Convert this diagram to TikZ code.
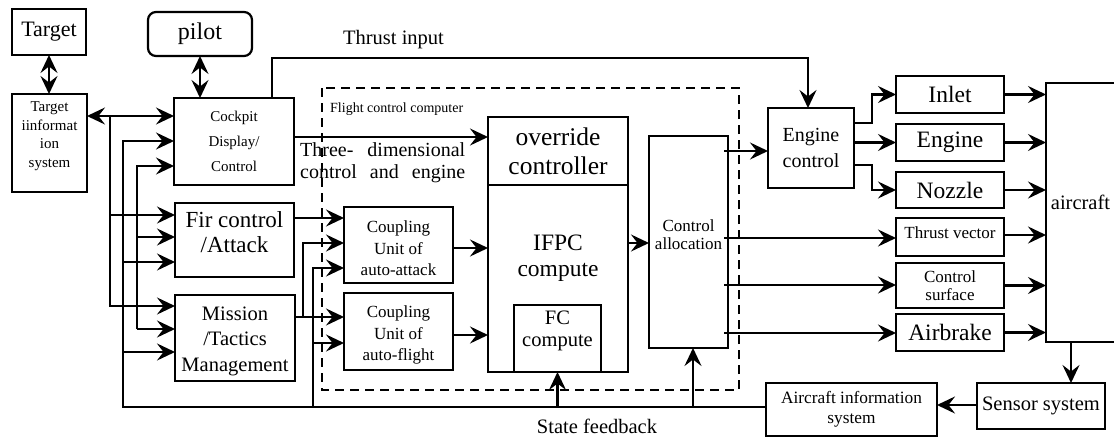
\documentclass[tikz,border=0pt]{standalone}
\usepackage{fontspec}
\setmainfont{Liberation Serif}
\usetikzlibrary{arrows.meta,calc}
\newcommand\fsz[2]{\fontsize{#1}{#2}\selectfont}
\begin{document}
\begin{tikzpicture}[x=1pt,y=-1pt,
  box/.style={draw, line width=2.2pt, anchor=north west, inner sep=0pt, outer sep=0pt, align=center},
  rbox/.style={box, rounded corners=8pt},
  ln/.style={line width=2.2pt},
  arr/.style={line width=2.2pt, -{Stealth[length=18pt,width=17pt,inset=6.5pt]}},
  darr/.style={line width=2.2pt, {Stealth[length=18pt,width=17pt,inset=6.5pt]}-{Stealth[length=18pt,width=17pt,inset=6.5pt]}},
  txt/.style={align=center, inner sep=0pt},
]
\useasboundingbox (0,0) rectangle (1114,437);

% ---------- boxes ----------
\node[box, minimum width=74pt, minimum height=46pt, font=\fsz{22}{24}] (target) at (12,9) {Target};
\node[rbox, minimum width=104pt, minimum height=44pt, font=\fsz{24}{26}] (pilot) at (148,12) {pilot};
\node[box, minimum width=75pt, minimum height=98pt] (tis) at (12,94) {};
\node[txt, font=\fsz{15}{18.5}] at (49.5,136) {Target\\iinformat\\ion\\system};
\node[box, minimum width=120pt, minimum height=87pt, font=\fsz{15}{25}] (cockpit) at (174,98) {Cockpit\\Display/\\Control};
\node[box, minimum width=119pt, minimum height=74pt] (fir) at (175,203) {};
\node[txt, font=\fsz{23}{25}] at (234.5,232) {Fir control\\/Attack};
\node[box, minimum width=120pt, minimum height=86pt] (mission) at (175,295) {};
\node[txt, font=\fsz{20.5}{25.5}] at (235,341) {Mission\\/Tactics\\Management};

\node[box, minimum width=109pt, minimum height=76pt] (cpa) at (344,207) {};
\node[txt, font=\fsz{17}{21.5}] at (398.5,248.5) {Coupling\\Unit of\\auto-attack};
\node[box, minimum width=109pt, minimum height=77pt] (cpf) at (344,293) {};
\node[txt, font=\fsz{17}{21.5}] at (398.5,335) {Coupling\\Unit of\\auto-flight};

\node[box, minimum width=140pt, minimum height=255pt] (ifpc) at (488,117) {};
\draw[ln] (ifpc.west |- 0,185) -- (ifpc.east |- 0,185);
\node[txt, font=\fsz{25.5}{29}] at (558,151.5) {override\\controller};
\node[txt, font=\fsz{23.5}{26}] at (558,258) {IFPC\\compute};
\node[box, minimum width=87pt, minimum height=67pt] (fc) at (514,305) {};
\node[txt, font=\fsz{20.5}{22}] at (557.5,331) {FC\\compute};

\node[box, minimum width=79pt, minimum height=212pt] (ca) at (649,136) {};
\node[txt, font=\fsz{17}{18}] at (688.5,235) {Control\\allocation};

\node[box, minimum width=86pt, minimum height=80pt, font=\fsz{20}{26}] (ec) at (768,108) {Engine\\control};

\node[box, minimum width=108pt, minimum height=37pt, font=\fsz{23.5}{25}] (inlet) at (896,76) {Inlet};
\node[box, minimum width=108pt, minimum height=37pt, font=\fsz{23.5}{25}] (engine) at (896,124) {Engine};
\node[box, minimum width=108pt, minimum height=36pt, font=\fsz{23.5}{25}] (nozzle) at (896,172) {Nozzle};
\node[box, minimum width=108pt, minimum height=38pt] (tv) at (896,218) {};
\node[txt, font=\fsz{17}{18}] at (950,233) {Thrust vector};
\node[box, minimum width=108pt, minimum height=45pt, font=\fsz{17}{18}] (cs) at (896,263) {Control\\surface};
\node[box, minimum width=108pt, minimum height=37pt, font=\fsz{23.5}{25}] (airbrake) at (896,314) {Airbrake};

\node[anchor=north west, minimum width=68pt, minimum height=259pt, inner sep=0pt, outer sep=0pt] (aircraft) at (1046,83) {};
\draw[ln] (aircraft.north east) -- (aircraft.north west) -- (aircraft.south west) -- (aircraft.south east);
\node[txt, font=\fsz{20.5}{22}] at (1080.5,202) {aircraft};

\node[box, minimum width=128pt, minimum height=46pt, font=\fsz{20.5}{22}] (sensor) at (977,383) {Sensor system};
\node[box, minimum width=171pt, minimum height=53pt, font=\fsz{17.3}{20}] (aiinfo) at (766,383) {Aircraft information\\system};

% ---------- dashed flight control computer ----------
\draw[line width=2.5pt, dash pattern=on 9pt off 6pt] (322,88) rectangle (739,390);
\node[anchor=west, inner sep=0pt, font=\fsz{14}{16}] (fcclabel) at (330,109) {Flight control computer};

% ---------- labels ----------
\node[txt, font=\fsz{20.5}{22}] (thrustlbl) at (393.5,40) {Thrust input};
\node[anchor=south, inner sep=0pt, font=\fsz{20.5}{22}] (statelbl) at (597,434) {State feedback};
\node[anchor=north west, inner sep=0pt, font=\fsz{20}{22}, align=left] (threed) at (300,142)
  {\hbox to 165pt{Three-\hfill dimensional}\\\hbox to 165pt{control\hfill and\hfill engine}};

% ---------- connectors ----------
\draw[darr] (target.south) -- (target.south |- tis.north);
\draw[darr] (pilot.south) -- (pilot.south |- cockpit.north);
\draw[darr] (tis.east |- 0,116) -- (cockpit.west |- 0,116);

% bus x=110
\draw[arr] (110,116) |- (mission.west |- 0,306);
\draw[arr] (110,215) -- (fir.west |- 0,215);
% bus x=123 (from aircraft information system)
\draw[arr] (aiinfo.west |- 0,407) -| (123,141) -- (cockpit.west |- 0,141);
\draw[arr] (123,262) -- (fir.west |- 0,262);
\draw[arr] (123,352) -- (mission.west |- 0,352);
% bus x=137
\draw[arr] (137,329) |- (cockpit.west |- 0,166);
\draw[arr] (137,329) -- (mission.west |- 0,329);
\draw[arr] (137,237) -- (fir.west |- 0,237);

% thrust input
\draw[arr] (cockpit.north -| 272,0) |- (808,58) -- (ec.north -| 808,0);
% cockpit -> override controller
\draw[arr] (cockpit.east |- 0,137) -- (ifpc.west |- 0,137);

% to coupling units
\draw[arr] (fir.east |- 0,218) -- (cpa.west |- 0,218);
\draw[arr] (mission.east |- 0,317) -- (cpf.west |- 0,317);
\draw[arr] (303,317) |- (cpa.west |- 0,243);
\draw[arr] (313,407) |- (cpa.west |- 0,268);
\draw[arr] (313,343) -- (cpf.west |- 0,343);

% couplings -> IFPC, IFPC -> CA
\draw[arr] (cpa.east |- 0,248) -- (ifpc.west |- 0,248);
\draw[arr] (cpf.east |- 0,335) -- (ifpc.west |- 0,335);
\draw[arr] (ifpc.east |- 0,243) -- (ca.west |- 0,243);

% CA outputs
\draw[arr] ([xshift=-4pt]ca.east |- 0,151) -- (ec.west |- 0,151);
\draw[arr] ([xshift=-4pt]ca.east |- 0,238) -- (tv.west |- 0,238);
\draw[arr] ([xshift=-4pt]ca.east |- 0,285) -- (cs.west |- 0,285);
\draw[arr] ([xshift=-4pt]ca.east |- 0,333) -- (airbrake.west |- 0,333);

% engine control outputs
\draw[arr] (ec.east |- 0,123) -- (872,123) |- (inlet.west);
\draw[arr] (ec.east |- engine.west) -- (engine.west);
\draw[arr] (ec.east |- 0,165) -- (872,165) |- (nozzle.west);

% into aircraft
\draw[arr] (inlet.east) -- (inlet.east -| aircraft.west);
\draw[arr] (engine.east) -- (engine.east -| aircraft.west);
\draw[arr] (nozzle.east) -- (nozzle.east -| aircraft.west);
\draw[arr] (tv.east |- 0,235) -- (aircraft.west |- 0,235);
\draw[arr] (cs.east) -- (cs.east -| aircraft.west);
\draw[arr] (airbrake.east) -- (airbrake.east -| aircraft.west);

% aircraft -> sensor -> aircraft info
\draw[arr] ([xshift=-9pt]aircraft.south) -- ([xshift=-9pt]aircraft.south |- sensor.north);
\draw[arr] (sensor.west |- 0,405) -- (aiinfo.east |- 0,405);

% state feedback
\draw[arr] (fc.south |- 0,407) -- (fc.south);
\draw[arr] (693,407) -- (ca.south -| 693,0);
\end{tikzpicture}
\end{document}
